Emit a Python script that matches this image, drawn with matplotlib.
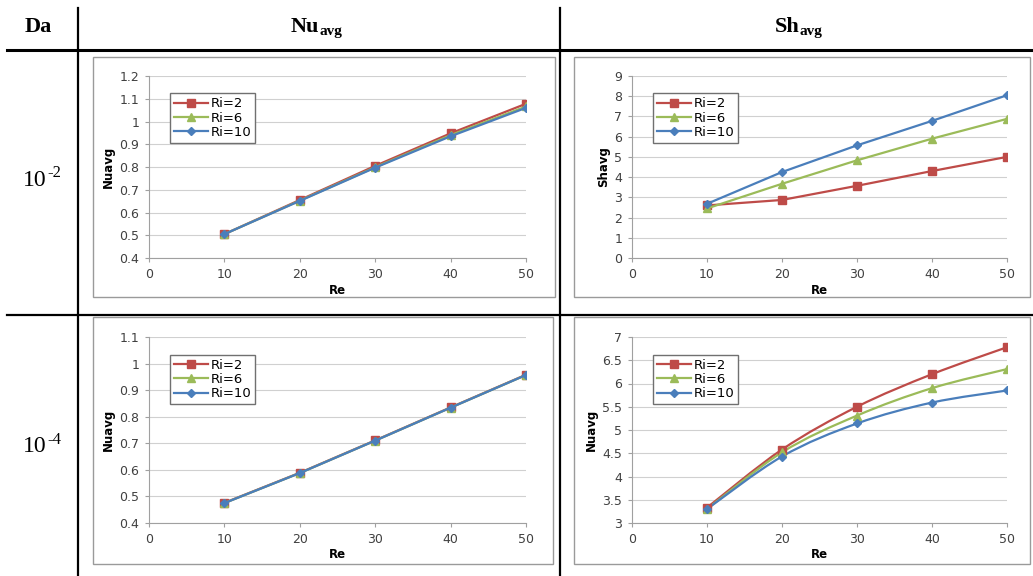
import numpy as np
import matplotlib
matplotlib.use('Agg')
import matplotlib.pyplot as plt
from matplotlib.path import Path
from matplotlib.patches import PathPatch, Rectangle
from matplotlib.lines import Line2D

Re = [10, 20, 30, 40, 50]
labels = ['Ri=2', 'Ri=6', 'Ri=10']

# Da = 1e-2
Nu_da2 = [[0.505, 0.655, 0.805, 0.948, 1.078],
          [0.505, 0.652, 0.799, 0.940, 1.066],
          [0.505, 0.651, 0.797, 0.935, 1.060]]
Sh_da2 = [[2.60, 2.87, 3.57, 4.30, 5.00],
          [2.45, 3.67, 4.83, 5.90, 6.88],
          [2.68, 4.25, 5.57, 6.78, 8.05]]
# Da = 1e-4
Nu_da4 = [[0.476, 0.589, 0.711, 0.835, 0.958],
          [0.475, 0.588, 0.710, 0.834, 0.957],
          [0.475, 0.588, 0.710, 0.834, 0.957]]
Sh_da4 = [[3.33, 4.58, 5.50, 6.20, 6.78],
          [3.30, 4.52, 5.31, 5.90, 6.31],
          [3.30, 4.43, 5.14, 5.59, 5.85]]

colors = ['#BE4B48', '#9BBB59', '#4A7EBB']
markers = ['s', '^', 'D']
msizes = [5.5, 6, 4.5]

W, H = 1033, 576
fig = plt.figure(figsize=(W/100, H/100), dpi=100)

def fx(x): return x / W
def fy(y): return 1 - y / H

# table lines
lw_tab = 1.6
fig.add_artist(Line2D([fx(7), fx(1033)], [fy(50), fy(50)], color='black', lw=2.2))
fig.add_artist(Line2D([fx(7), fx(1033)], [fy(315), fy(315)], color='black', lw=lw_tab))
fig.add_artist(Line2D([fx(78), fx(78)], [fy(8), fy(576)], color='black', lw=lw_tab))
fig.add_artist(Line2D([fx(560), fx(560)], [fy(8), fy(576)], color='black', lw=lw_tab))

serif = 'Liberation Serif'
# header texts
fig.text(fx(38), fy(27), 'Da', family=serif, weight='bold', fontsize=16,
         ha='center', va='center')
fig.text(fx(319), fy(27), 'Nu', family=serif, weight='bold', fontsize=16,
         ha='right', va='center')
fig.text(fx(319), fy(31), 'avg', family=serif, weight='bold', fontsize=11,
         ha='left', va='center')
fig.text(fx(800), fy(27), 'Sh', family=serif, weight='bold', fontsize=16,
         ha='right', va='center')
fig.text(fx(800), fy(31), 'avg', family=serif, weight='bold', fontsize=11,
         ha='left', va='center')
for yc, ex in [(180, '-2'), (447, '-4')]:
    fig.text(fx(47), fy(yc), '10', family=serif, fontsize=17, ha='right', va='center')
    fig.text(fx(47), fy(yc - 7), ex, family=serif, fontsize=12, ha='left', va='center')


def smooth_path(x, y):
    pts = np.column_stack([x, y]).astype(float)
    n = len(pts)
    verts = [pts[0]]
    codes = [Path.MOVETO]
    for i in range(n - 1):
        p0 = pts[i - 1] if i > 0 else pts[i]
        p1 = pts[i]
        p2 = pts[i + 1]
        p3 = pts[i + 2] if i + 2 < n else pts[i + 1]
        c1 = p1 + (p2 - p0) / 6
        c2 = p2 - (p3 - p1) / 6
        verts += [c1, c2, p2]
        codes += [Path.CURVE4] * 3
    return Path(verts, codes)


def panel(box, axrect, data, ylim, yticks, ylabel, smooth=False):
    x0, y0, x1, y1 = box
    fig.add_artist(Rectangle((fx(x0), fy(y1)), fx(x1 - x0), (y1 - y0) / H,
                             fill=False, edgecolor='#9a9a9a', lw=1.0))
    l, t, r, b = axrect
    ax = fig.add_axes([fx(l), fy(b), fx(r - l), (b - t) / H])
    for k, ys in enumerate(data):
        if smooth:
            ax.add_patch(PathPatch(smooth_path(Re, ys), facecolor='none',
                                   edgecolor=colors[k], lw=1.6, zorder=3))
            ax.plot(Re, ys, linestyle='none', marker=markers[k], ms=msizes[k],
                    color=colors[k], zorder=4)
            ax.plot([], [], '-', marker=markers[k], ms=msizes[k], color=colors[k],
                    lw=1.6, label=labels[k])
        else:
            ax.plot(Re, ys, '-', marker=markers[k], ms=msizes[k], color=colors[k],
                    lw=1.6, label=labels[k], zorder=3 + k)
    ax.set_xlim(0, 50)
    ax.set_ylim(*ylim)
    ax.set_xticks([0, 10, 20, 30, 40, 50])
    ax.set_yticks(yticks)
    ax.set_yticklabels([('%g' % v) for v in yticks])
    ax.grid(axis='y', color='#d0d0d0', lw=0.8)
    ax.set_axisbelow(True)
    for s in ['top', 'right']:
        ax.spines[s].set_visible(False)
    for s in ['left', 'bottom']:
        ax.spines[s].set_color('#a0a0a0')
    ax.tick_params(axis='both', labelsize=9, colors='#a0a0a0', labelcolor='#404040',
                   length=3, pad=4)
    ax.set_xlabel('Re', fontsize=8.5, weight='bold', labelpad=2)
    ax.set_ylabel(ylabel, fontsize=8.5, weight='bold', labelpad=3)
    ax.legend(loc='upper left', bbox_to_anchor=(0.055, 0.905), fontsize=9.5,
              frameon=True, fancybox=False, edgecolor='#707070', framealpha=1,
              handlelength=2.6, borderpad=0.3, labelspacing=0.1, handletextpad=0.2,
              borderaxespad=0)
    return ax

panel((93, 57, 555, 297), (149, 76, 526, 258), Nu_da2, (0.4, 1.2),
      [0.4, 0.5, 0.6, 0.7, 0.8, 0.9, 1.0, 1.1, 1.2], 'Nuavg')
panel((574, 57, 1030, 297), (632, 76, 1007, 258), Sh_da2, (0, 9),
      list(range(0, 10)), 'Shavg')
panel((93, 317, 553, 564), (149, 337, 526, 523), Nu_da4, (0.4, 1.1),
      [0.4, 0.5, 0.6, 0.7, 0.8, 0.9, 1.0, 1.1], 'Nuavg')
panel((574, 317, 1030, 564), (632, 337, 1007, 523), Sh_da4, (3, 7),
      [3, 3.5, 4, 4.5, 5, 5.5, 6, 6.5, 7], 'Nuavg', smooth=True)

fig.savefig('out.png', dpi=100)
